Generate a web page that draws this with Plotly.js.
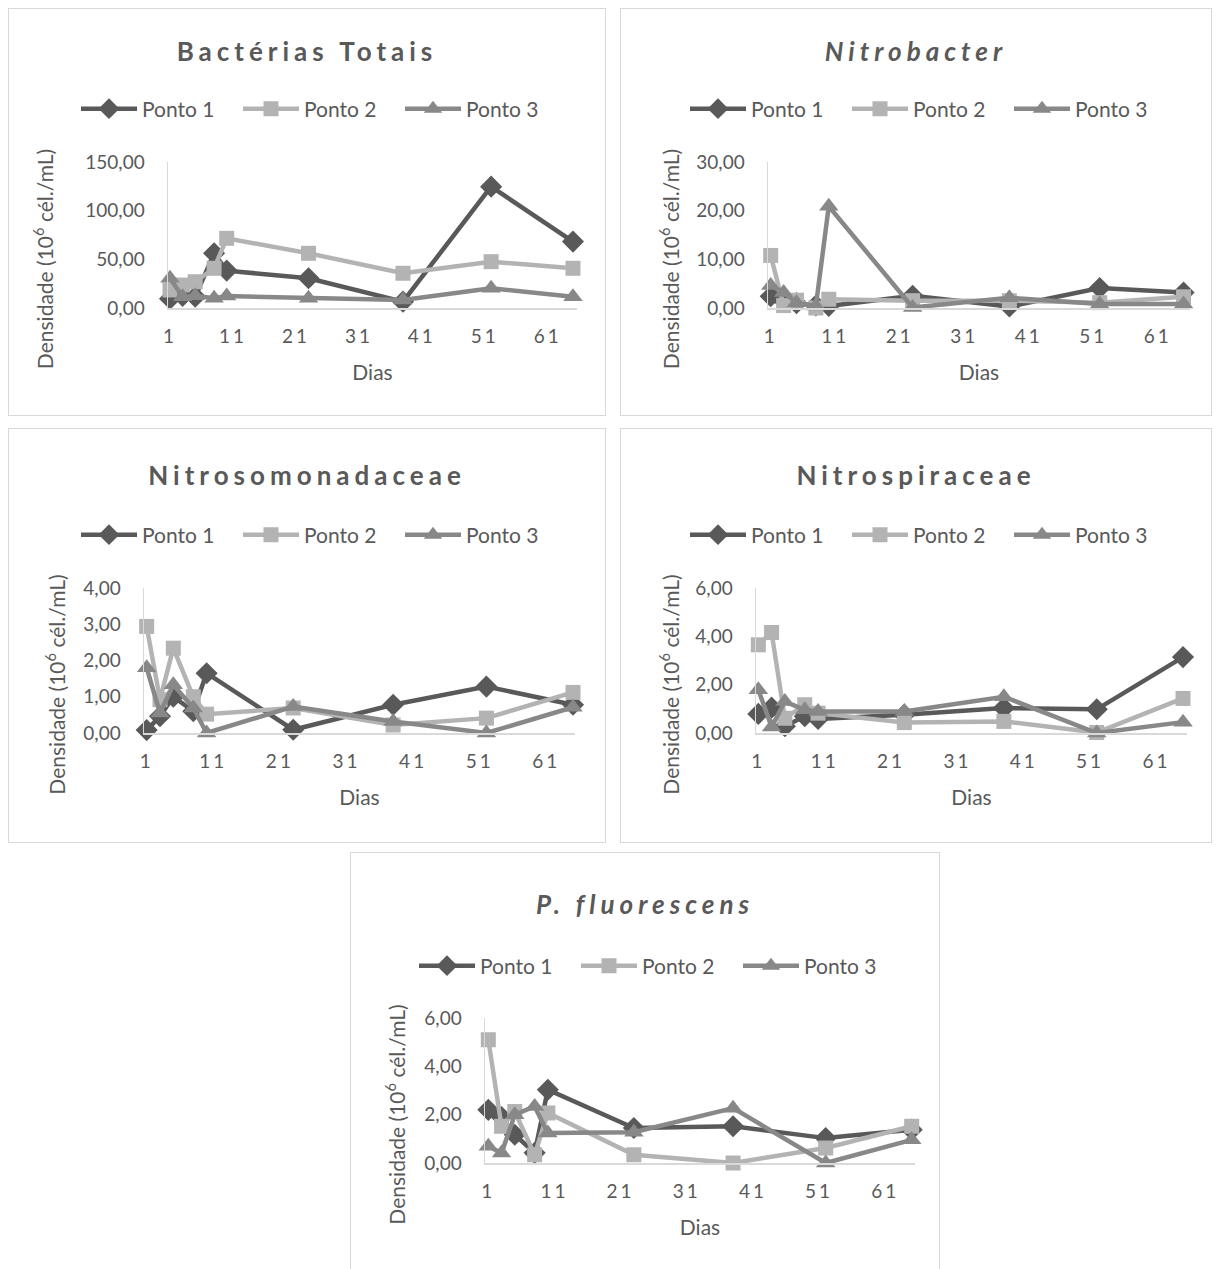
<!DOCTYPE html>
<html><head><meta charset="utf-8">
<script src="https://cdn.plot.ly/plotly-3.0.1.min.js"></script>
<style>
body{margin:0;background:#fff;width:1216px;height:1269px;position:relative;overflow:hidden}
.box{position:absolute;border:1px solid #d9d9d9;box-sizing:border-box;background:#fff}
</style></head><body>
<div id="c1" class="box" style="left:8px;top:8px;width:598px;height:408px"></div>
<div id="c2" class="box" style="left:620px;top:8px;width:592px;height:408px"></div>
<div id="c3" class="box" style="left:8px;top:428px;width:598px;height:415px"></div>
<div id="c4" class="box" style="left:620px;top:428px;width:592px;height:415px"></div>
<div id="c5" class="box" style="left:350px;top:852px;width:590px;height:430px"></div>
<script>
// ---- data ----
const dias = [1, 3, 5, 8, 10, 23, 38, 52, 65];
const xTicks = [1, 11, 21, 31, 41, 51, 61];
const pontos = ['Ponto 1', 'Ponto 2', 'Ponto 3'];

const titulos = ['Bactérias Totais', 'Nitrobacter', 'Nitrosomonadaceae', 'Nitrospiraceae', 'P. fluorescens'];
const tituloX = 'Dias';
const tituloY = 'Densidade (10<sup>6</sup> cél./mL)';

const bact_p1 = [9.5, 12.5, 11.5, 56.2, 38.4, 30.5, 6.5, 124.7, 68.2];
const bact_p2 = [18.5, 23.6, 27.0, 40.8, 71.6, 56.2, 35.7, 47.6, 40.8];
const bact_p3 = [30.5, 11.6, 12.5, 10.0, 12.3, 10.0, 8.2, 20.2, 11.6];

const nbac_p1 = [2.4, 1.5, 1.0, 0.5, 0.4, 2.5, 0.3, 4.1, 3.2];
const nbac_p2 = [10.8, 0.5, 1.6, 0.0, 1.8, 1.5, 1.5, 1.1, 2.3];
const nbac_p3 = [4.6, 3.2, 1.1, 0.4, 20.9, 0.1, 2.1, 0.8, 0.8];

const nsom_p1 = [0.08, 0.46, 1.00, 0.60, 1.65, 0.09, 0.78, 1.28, 0.78];
const nsom_p2 = [2.94, 0.92, 2.34, 1.00, 0.52, 0.69, 0.22, 0.41, 1.12];
const nsom_p3 = [1.80, 0.55, 1.33, 0.69, 0.00, 0.73, 0.32, 0.00, 0.71];

const nspi_p1 = [0.79, 1.05, 0.28, 0.69, 0.58, 0.76, 1.03, 0.98, 3.14];
const nspi_p2 = [3.65, 4.16, 0.61, 1.17, 0.82, 0.43, 0.48, 0.02, 1.43];
const nspi_p3 = [1.79, 0.25, 1.30, 0.96, 0.89, 0.89, 1.50, 0.00, 0.45];

const pflu_p1 = [2.20, 1.90, 1.17, 0.42, 3.03, 1.45, 1.52, 1.03, 1.38];
const pflu_p2 = [5.10, 1.52, 2.13, 0.34, 2.07, 0.34, 0.00, 0.62, 1.52];
const pflu_p3 = [0.69, 0.41, 2.00, 2.34, 1.24, 1.27, 2.27, 0.00, 0.96];

const yMax = [150, 30, 4, 6, 6];
const yStep = [50, 10, 1, 2, 2];

// ---- styles ----
const cores = ['#595959', '#b3b3b3', '#888888'];
const simbolos = ['diamond', 'square', 'triangle-up'];
const tamanhos = [17, 15, 17];
const fonte = 'Lato, "Open Sans", sans-serif';
const txt = '#595959';

const series = [
  [bact_p1, bact_p2, bact_p3],
  [nbac_p1, nbac_p2, nbac_p3],
  [nsom_p1, nsom_p2, nsom_p3],
  [nspi_p1, nspi_p2, nspi_p3],
  [pflu_p1, pflu_p2, pflu_p3]
];

// layout geometry per panel (inner px)
const geo = [
  {id:'c1', w:596, h:406, l:159, r:28, t:153, b:107, xr:[0.68,65.64], ty:43, ly:100, it:false, ys:26},
  {id:'c2', w:590, h:406, l:147, r:21, t:153, b:107, xr:[0.58,66.0], ty:43, ly:100, it:true, ys:11},
  {id:'c3', w:596, h:413, l:135, r:30, t:159, b:109, xr:[0.6,65.3], ty:47, ly:106, it:false, ys:12},
  {id:'c4', w:590, h:413, l:135, r:24, t:159, b:109, xr:[0.65,65.6], ty:47, ly:106, it:false, ys:10},
  {id:'c5', w:588, h:428, l:134, r:24, t:165, b:118, xr:[0.5,65.5], ty:52, ly:113, it:true, ys:13}
];

geo.forEach((g, k) => {
  const traces = series[k].map((vals, i) => ({
    x: dias, y: vals, name: pontos[i], type: 'scatter', mode: 'lines+markers',
    line: {color: cores[i], width: 4.5},
    marker: {symbol: simbolos[i], size: tamanhos[i], color: cores[i]},
    cliponaxis: false
  }));
  const plotW = g.w - g.l - g.r, plotH = g.h - g.t - g.b;
  const tickvals = [];
  for (let v = 0; v <= yMax[k] + 1e-9; v += yStep[k]) tickvals.push(v);
  const layout = {
    width: g.w, height: g.h,
    margin: {l: g.l, r: g.r, t: g.t, b: g.b, autoexpand: false},
    paper_bgcolor: '#fff', plot_bgcolor: '#fff',
    separators: ',.',
    font: {family: fonte, color: txt, size: 19},
    title: {
      text: titulos[k], x: 0.5, xref: 'container', xanchor: 'center',
      y: 1 - g.ty / g.h, yref: 'container', yanchor: 'middle',
      font: {family: fonte, size: 26, color: txt, weight: 'bold', style: g.it ? 'italic' : 'normal'}
    },
    showlegend: true,
    legend: {
      orientation: 'h', xref: 'paper', yref: 'paper',
      x: ((g.w / 2 - 231) - g.l) / plotW, xanchor: 'left',
      y: 1 + (g.t - g.ly) / plotH, yanchor: 'middle', font: {family: fonte, size: 21, color: txt},
      entrywidth: 91, itemwidth: 56, bgcolor: 'rgba(0,0,0,0)'
    },
    xaxis: {
      range: g.xr, tickvals: xTicks, ticktext: xTicks.map(String),
      showgrid: false, zeroline: false, showline: true, linecolor: '#d9d9d9', linewidth: 1.5,
      ticks: 'outside', ticklen: 11, tickcolor: 'rgba(0,0,0,0)',
      tickfont: {family: fonte, size: 19, color: txt}, fixedrange: true,
      title: {text: tituloX, standoff: 19, font: {family: fonte, size: 21, color: txt}}
    },
    yaxis: {
      range: [0, yMax[k]], tickvals: tickvals, tickformat: '.2f',
      showgrid: false, zeroline: false, showline: true, linecolor: '#d9d9d9', linewidth: 1.5,
      ticks: 'outside', ticklen: 18, tickcolor: 'rgba(0,0,0,0)',
      tickfont: {family: fonte, size: 19, color: txt}, fixedrange: true,
      title: {text: tituloY, standoff: g.ys, font: {family: fonte, size: 21, color: txt}}
    }
  };
  Plotly.newPlot(g.id, traces, layout, {staticPlot: true}).then(gd => {
    gd.querySelectorAll('.gtitle').forEach(e => e.style.letterSpacing = '5px');
    gd.querySelectorAll('.xtick text').forEach(e => e.style.letterSpacing = '3px');
    // Excel centres the value-axis title on the outer plot area (incl. tick labels): nudge down
    gd.querySelectorAll('.ytitle').forEach(e => {
      const x = parseFloat(e.getAttribute('x')), y = parseFloat(e.getAttribute('y')) + 24;
      e.setAttribute('y', y);
      e.setAttribute('transform', 'rotate(-90,' + x + ',' + y + ')');
      e.querySelectorAll('tspan[x]').forEach(t => t.setAttribute('x', x));
    });
  });
});
</script>
</body></html>
